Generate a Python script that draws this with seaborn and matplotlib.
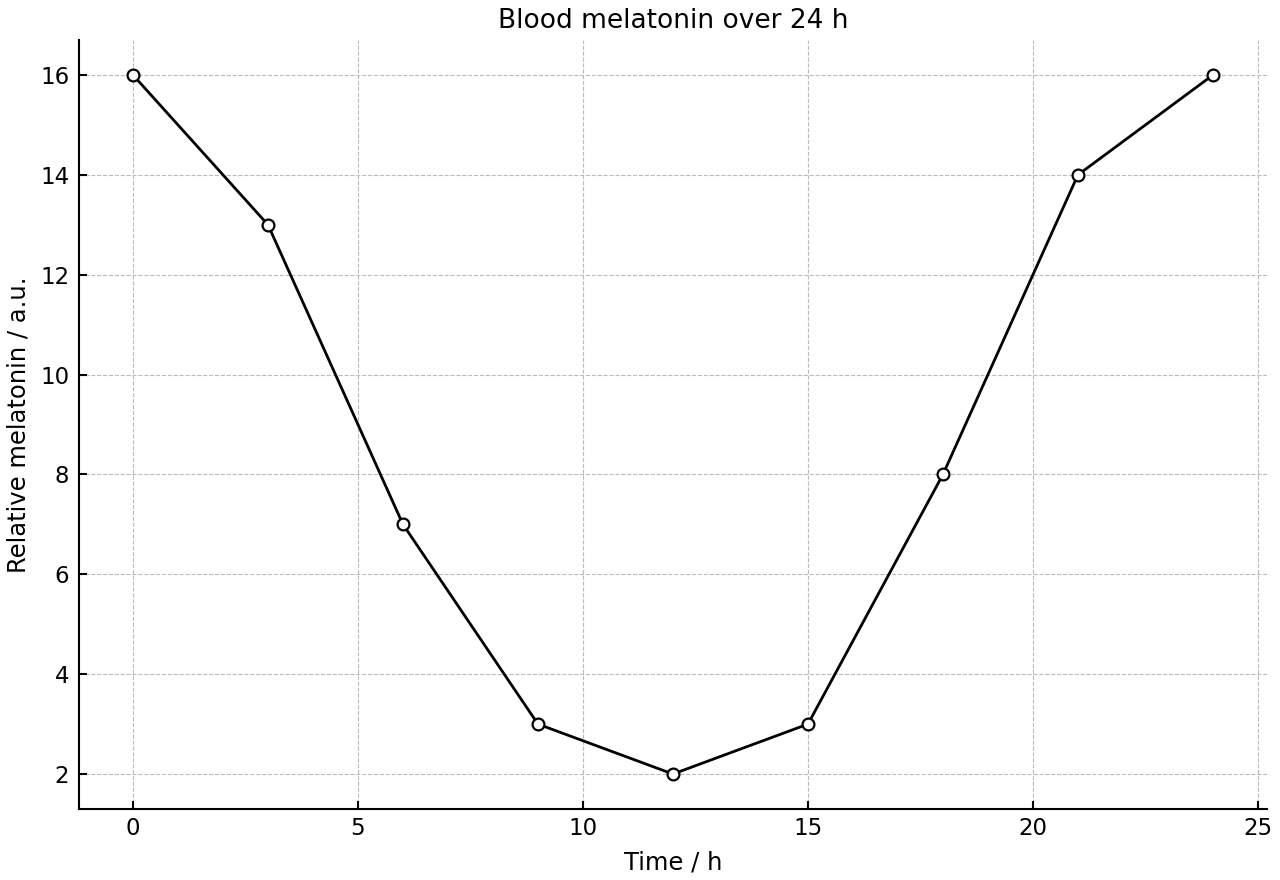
import pandas as pd
import matplotlib.pyplot as plt
import seaborn as sns

# Data
time_h = [0, 3, 6, 9, 12, 15, 18, 21, 24]
melatonin = [16, 13, 7, 3, 2, 3, 8, 14, 16]

df = pd.DataFrame({'Time / h': time_h, 'Relative melatonin / a.u.': melatonin})

sns.set_style('ticks')
plt.rcParams['font.family'] = ['DejaVu Sans']
plt.rcParams['font.size'] = 16
plt.rcParams['text.color'] = 'black'
plt.rcParams['axes.labelcolor'] = 'black'
plt.rcParams['xtick.color'] = 'black'
plt.rcParams['ytick.color'] = 'black'
plt.rcParams['axes.edgecolor'] = 'black'

fig = plt.figure(figsize=(12.8, 8.8), dpi=100)
ax = fig.add_axes([0.0617, 0.0807, 0.9281, 0.8738])

sns.lineplot(data=df, x='Time / h', y='Relative melatonin / a.u.', ax=ax,
             color='black', linewidth=2.0, marker='o', markersize=8.5,
             markerfacecolor='white', markeredgecolor='black', markeredgewidth=1.6)

ax.set_title('Blood melatonin over 24 h', fontsize=19, pad=9)
ax.set_xlabel('Time / h', fontsize=17.5, labelpad=7)
ax.set_ylabel('Relative melatonin / a.u.', fontsize=17.5, labelpad=7)
ax.set_xticks([0, 5, 10, 15, 20, 25])
ax.set_yticks([2, 4, 6, 8, 10, 12, 14, 16])
ax.tick_params(direction='in', length=6, width=1.5, labelsize=16.5)
ax.tick_params(axis='y', pad=7)
ax.tick_params(axis='x', pad=6)
ax.grid(True, linestyle='--', color='#bbbbbb', linewidth=0.8)
for side in ['top', 'right']:
    ax.spines[side].set_visible(False)
for side in ['left', 'bottom']:
    ax.spines[side].set_linewidth(1.5)

fig.savefig('out.png', dpi=100)
